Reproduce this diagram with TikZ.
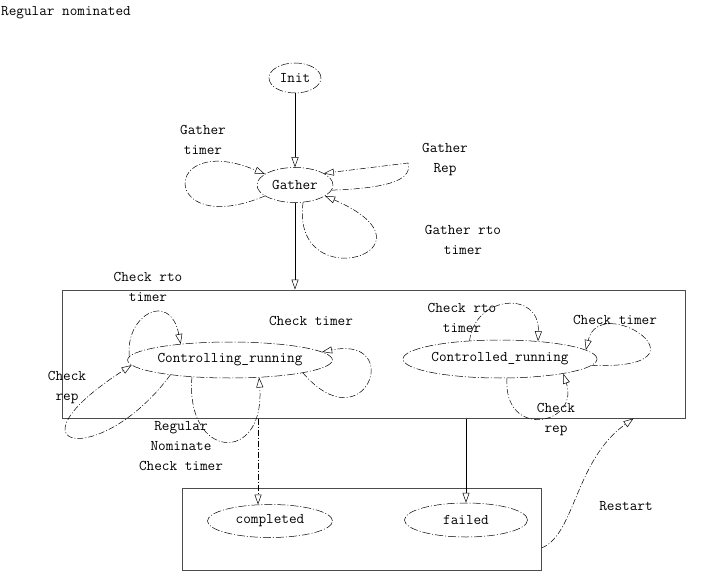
\documentclass[tikz,border=0pt]{standalone}
\usetikzlibrary{arrows.meta,positioning,shapes.geometric}

\begin{document}
\begin{tikzpicture}[x=1pt,y=-1pt,font=\ttfamily\fontsize{14.8}{20}\selectfont,
  stnode/.style={draw,ellipse,inner sep=0pt,line width=0.5pt,dash pattern=on 8pt off 2pt on 1pt off 2pt},
  frame/.style={draw=black!70,line width=1pt,inner sep=0pt},
  selfloop/.style={line width=0.5pt,dash pattern=on 6pt off 2pt on 1pt off 2pt,-{Triangle[open,length=10pt,width=7pt]}},
  flow/.style={line width=0.5pt,-{Triangle[open,length=10pt,width=7pt]}},
  lbl/.style={align=center,inner sep=0pt}]
  \useasboundingbox (0,0) rectangle (720,572);
  \node[anchor=west,inner sep=0pt] (title) at (1,13) {Regular nominated};

  \node[stnode,minimum width=52,minimum height=30] (init) at (295,78) {Init};
  \node[stnode,minimum width=76,minimum height=35] (gath) at (295,185) {Gather};
  \node[frame,minimum width=623,minimum height=128] (ctrl) at (373.5,354) {};
  \node[stnode,minimum width=175,minimum height=36] (cing) at (230,360) {Controlling\_running};
  \node[stnode,minimum width=186,minimum height=38] (cled) at (500,359) {Controlled\_running};
  \node[frame,minimum width=359,minimum height=82] (done) at (361.5,529) {};
  \node[stnode,minimum width=125,minimum height=33] (comp) at (270,521) {completed};
  \node[stnode,minimum width=123,minimum height=34] (fail) at (466,520) {failed};

  \node[lbl] (lgt) at (203,140) {Gather\\timer};
  \node[lbl] (lgr) at (445,160) {Gather\\Rep};
  \node[lbl] (lgrto) at (463,240) {Gather rto\\timer};
  \node[lbl] (lcrto) at (148,287) {Check rto\\timer};
  \node[lbl] (lct) at (311,321) {Check timer};
  \node[lbl] (lcrep) at (67,388) {Check\\rep};
  \node[lbl] (lnom) at (181,446) {Regular\\Nominate\\Check timer};
  \node[lbl] (ldrto) at (462,318) {Check rto\\timer};
  \node[lbl] (ldt) at (615,320) {Check timer};
  \node[lbl] (ldrep) at (556,420) {Check\\rep};
  \node[lbl] (lrs) at (626,506) {Restart};

  \draw[flow] (init) -- (gath);
  \draw[selfloop] (gath.200) .. controls (160,240) and (160,130) .. (gath.160);
  \draw[selfloop] (gath.-8) .. controls (395,188) and (412,178) .. (408,163) -- (gath.22);
  \draw[selfloop] (gath.-65) .. controls (290,300) and (450,250) .. (gath.-20);
  \draw[flow] (gath.south) -- (gath.south |- ctrl.north);

  \draw[selfloop] (cing.178) .. controls (125,315) and (170,290) .. (cing.162);
  \draw[selfloop] (cing.-10) .. controls (365,445) and (405,335) .. (cing.5);
  \draw[selfloop] (cing.194) .. controls (100,470) and (0,450) .. (cing.183);
  \draw[selfloop] (cing.204) .. controls (185,460) and (265,465) .. (cing.-31);

  \draw[selfloop] (cled.149) .. controls (475,295) and (540,290) .. (cled.25);
  \draw[selfloop] (cled.-4) .. controls (720,370) and (600,290) .. (cled.6);
  \draw[selfloop] (cled.-70) .. controls (503,440) and (580,425) .. (cled.-13);

  \draw[selfloop] (ctrl.south -| comp.126) -- (comp.126);
  \draw[flow] (ctrl.south -| fail.north) -- (fail.north);
  \draw[selfloop] ([yshift=-19pt]done.east) .. controls (575,535) and (575,460) .. ([xshift=-52pt]ctrl.south east);
\end{tikzpicture}
\end{document}
